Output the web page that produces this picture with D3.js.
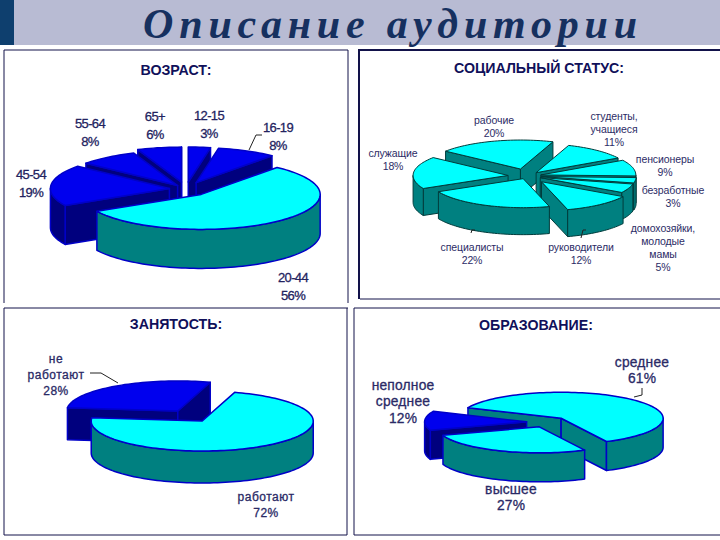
<!DOCTYPE html>
<html><head><meta charset="utf-8">
<style>html,body{margin:0;padding:0;background:#fff}svg{display:block}</style>
<script src="https://cdn.jsdelivr.net/npm/d3@7"></script></head>
<body><div id="chart"></div>
<script>
const pageTitle = "Описание аудитории";

const ageTitle = "ВОЗРАСТ:";
const ageCategories = ["12-15","16-19","20-44","45-54","55-64","65+"];
const ageValues = [3,8,56,19,8,6];

const statusTitle = "СОЦИАЛЬНЫЙ СТАТУС:";
const statusCategories = ["студенты,\nучащиеся","пенсионеры","безработные","домохозяйки,\nмолодые\nмамы","руководители","специалисты","служащие","рабочие"];
const statusValues = [11,9,3,5,12,22,18,20];

const employmentTitle = "ЗАНЯТОСТЬ:";
const employmentCategories = ["работают","не\nработают"];
const employmentValues = [72,28];

const educationTitle = "ОБРАЗОВАНИЕ:";
const educationCategories = ["среднее","высшее","неполное\nсреднее"];
const educationValues = [61,27,12];

const CYAN = {top:"#00FFFF", side:"#008080"};
const BLUE = {top:"#0000EE", side:"#00007E"};

const charts = [
 {title:ageTitle, cats:ageCategories, vals:ageValues, cx:186, cy:189, rx:119, ry:35, depth:39, start:0, explode:[.2,.2,.2,.14,.12,.2],
  palette:[BLUE,BLUE,CYAN,BLUE,BLUE,BLUE], stroke:"#0000C8", strokeW:1.5, titleX:176, titleY:75, font:13, lh:18.5, color:"#23235f", ls:-0.6, halo:0.3,
  labels:[[209,115],[278,127],[293,277],[31,174],[90,123],[155,116]],
  leaders:[[[249,150],[256,135],[262,135]]]},
 {title:statusTitle, cats:statusCategories, vals:statusValues, cx:527, cy:176, rx:95, ry:29, depth:27, start:20, explode:[.15,.15,.15,.15,.25,.1,.2,.25],
  palette:statusValues.map(()=>CYAN), stroke:"#003b3b", strokeW:1, titleX:539, titleY:73, font:10.5, lh:13, color:"#2c2c66", ls:-0.1, halo:0,
  labels:[[614,116],[665,159],[673,190],[663,228],[581,247],[472,247],[393,153],[494,120]],
  leaders:[[[471,233],[472,230],[475,230]],[[581,238],[583,230],[586,230]]]},
 {title:employmentTitle, cats:employmentCategories, vals:employmentValues, cx:190, cy:416, rx:111, ry:30, depth:32, start:17, explode:[.2,.2],
  palette:[CYAN,BLUE], stroke:"#0000C8", strokeW:1.5, titleX:176, titleY:329, font:12, lh:16, color:"#2a2a66", ls:0.5, halo:0.3,
  labels:[[266,497],[56,359]],
  leaders:[[[90,373],[101,373],[118,383]]]},
 {title:educationTitle, cats:educationCategories, vals:educationValues, cx:547, cy:422, rx:102, ry:26, depth:29, start:294, explode:[.2,.2,.2],
  palette:[CYAN,CYAN,BLUE], stroke:"#0000C8", strokeW:1.5, titleX:536, titleY:330, font:13.8, lh:16.5, color:"#2a2a66", ls:0.2, halo:0.3,
  labels:[[642,362],[511,489],[403,385]],
  leaders:[[[642,388],[642,395],[634,397]]]}
];

const W=720,H=540;
const svg=d3.select("#chart").append("svg").attr("width",W).attr("height",H).style("font-family","'Liberation Sans',Arial,sans-serif");
svg.append("rect").attr("width",W).attr("height",H).attr("fill","#fff");

// header
svg.append("rect").attr("x",0).attr("y",0).attr("width",W).attr("height",45).attr("fill","#B8BBD3");
svg.append("rect").attr("x",0).attr("y",0).attr("width",14).attr("height",45).attr("fill","#0E3F6E");
svg.append("text").attr("x",393).attr("y",38).attr("text-anchor","middle")
 .style("font-family","'Liberation Serif',serif").style("font-style","italic").style("font-weight","700").style("font-size","42px").style("letter-spacing","5.8px")
 .attr("fill","#16305F").text(pageTitle);

// panels
const panelLines=[
 [[4,50],[348,50]],[[4,50],[4,303]],[[348,50],[348,303]],[[4,308],[348,308]],
 [[4,308],[4,535]],[[347,308],[347,535]],[[4,535],[347,535]],
 [[354,308],[720,308]],[[354,308],[354,535]],[[354,535],[720,535]],[[360,299],[720,299]]];
panelLines.forEach(l=>svg.append("line").attr("x1",l[0][0]).attr("y1",l[0][1]).attr("x2",l[1][0]).attr("y2",l[1][1]).attr("stroke","#12124a").attr("stroke-width",1));
svg.append("line").attr("x1",358).attr("y1",50).attr("x2",720).attr("y2",50).attr("stroke","#12124a").attr("stroke-width",2);
svg.append("line").attr("x1",359).attr("y1",50).attr("x2",359).attr("y2",299).attr("stroke","#12124a").attr("stroke-width",2);

const RAD=Math.PI/180;
charts.forEach(c=>{
  const g=svg.append("g");
  const pie=d3.pie().sort(null).value(d=>d.v).startAngle(c.start*RAD).endAngle((c.start+360)*RAD);
  const arcs=pie(c.vals.map((v,i)=>({v,i})));
  const sx=d3.scaleLinear().domain([-1,1]).range([c.cx-c.rx,c.cx+c.rx]);
  const sy=d3.scaleLinear().domain([-1,1]).range([c.cy-c.ry,c.cy+c.ry]);
  const line=d3.line().curve(d3.curveLinear);

  arcs.map(a=>{a.mid=(a.startAngle+a.endAngle)/2;return a;})
   .sort((p,q)=>(-Math.cos(p.mid))-(-Math.cos(q.mid)))
   .forEach(a=>{
    const e=c.explode[a.data.i], col=c.palette[a.data.i];
    const ox=e*Math.sin(a.mid), oy=-e*Math.cos(a.mid);
    const P=(ang,r,dz)=>[sx(ox+r*Math.sin(ang)),sy(oy-r*Math.cos(ang))+dz];
    const rim=(p,q,dz)=>{const n=Math.max(2,Math.ceil((q-p)/(2*RAD)));return d3.range(n+1).map(k=>P(p+(q-p)*k/n,1,dz));};
    const draw=(pts,fill)=>g.append("path").attr("d",line(pts)+"Z").attr("fill",fill).attr("stroke",c.stroke).attr("stroke-width",c.strokeW).attr("stroke-linejoin","round");
    const apex=P(0,0,0), apexB=P(0,0,c.depth);
    // radial cut faces
    if(Math.sin(a.startAngle)<0) draw([apex,P(a.startAngle,1,0),P(a.startAngle,1,c.depth),apexB],col.side);
    if(Math.sin(a.endAngle)>0) draw([apex,P(a.endAngle,1,0),P(a.endAngle,1,c.depth),apexB],col.side);
    // outer wall: only the part facing the viewer
    [[90,270],[450,630]].forEach(w=>{
      const p=Math.max(a.startAngle,w[0]*RAD), q=Math.min(a.endAngle,w[1]*RAD);
      if(q>p) draw(rim(p,q,0).concat(rim(p,q,c.depth).reverse()),col.side);
    });
    // top
    draw([apex].concat(rim(a.startAngle,a.endAngle,0)),col.top);
  });

  // title
  g.append("text").attr("x",c.titleX).attr("y",c.titleY).attr("text-anchor","middle").style("font-size","14.2px").style("font-weight","700").attr("fill","#10105A").text(c.title);

  // labels
  c.cats.forEach((cat,i)=>{
    const lines=cat.split("\n").concat([c.vals[i]+"%"]);
    const t=g.append("text").attr("text-anchor","middle").style("font-size",c.font+"px").style("letter-spacing",c.ls+"px").attr("fill",c.color).attr("stroke",c.color).attr("stroke-width",c.halo);
    lines.forEach((s,k)=>t.append("tspan").attr("x",c.labels[i][0]).attr("y",c.labels[i][1]+k*c.lh+c.font*0.36).text(s));
  });
  // leader lines
  c.leaders.forEach(l=>g.append("path").attr("d",d3.line()(l)).attr("fill","none").attr("stroke","#222").attr("stroke-width",1));
});
</script></body></html>
